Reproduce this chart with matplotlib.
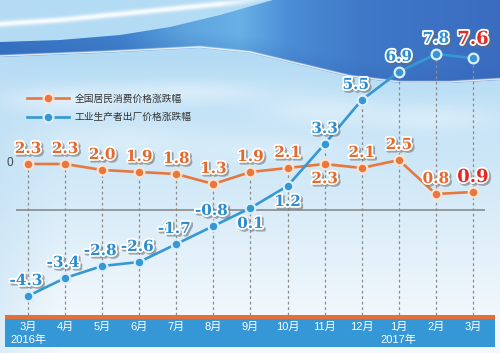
import matplotlib

matplotlib.use("Agg")

import numpy as np
import matplotlib.pyplot as plt
import matplotlib.patheffects as pe
from matplotlib.colors import to_rgb

plt.rcParams["font.family"] = ["Liberation Sans", "Noto Sans CJK SC", "DejaVu Sans"]

# data
months = ["3月", "4月", "5月", "6月", "7月", "8月", "9月",
          "10月", "11月", "12月", "1月", "2月", "3月"]
years = {0: "2016年", 10: "2017年"}
cpi = [2.3, 2.3, 2.0, 1.9, 1.8, 1.3, 1.9, 2.1, 2.3, 2.1, 2.5, 0.8, 0.9]
ppi = [-4.3, -3.4, -2.8, -2.6, -1.7, -0.8, 0.1, 1.2, 3.3, 5.5, 6.9, 7.8, 7.6]
cpi_name = "全国居民消费价格涨跌幅"
ppi_name = "工业生产者出厂价格涨跌幅"

ORANGE = "#e8773e"
BLUE = "#3598d4"
W, H = 500, 353


def rgb(c):
    return np.array(to_rgb(c))


def mix(a, b, f):
    return a * (1 - f) + b * f


def background():
    yy, xx = np.mgrid[0:H, 0:W]
    X = xx + 0.5
    Y = yy + 0.5
    t = np.clip((Y - 50) / 270.0, 0, 1)[..., None]
    img = mix(rgb("#b3dbf4"), rgb("#f3f8fc"), t)
    img = mix(img, rgb("#b9dcf3"), np.clip(1 - X / 60.0, 0, 1)[..., None] * 0.4)

    # soft clouds under the wave
    for cx, cy, sx, sy, k in [(70, 100, 70, 14, 0.45), (190, 92, 80, 12, 0.4),
                              (320, 110, 60, 16, 0.35), (120, 140, 90, 18, 0.3),
                              (430, 118, 70, 14, 0.35), (270, 150, 80, 15, 0.25)]:
        g = np.exp(-(((X - cx) / sx) ** 2 + ((Y - cy) / sy) ** 2)) * k
        img = mix(img, np.ones(3), g[..., None])

    # white swoosh at top left
    sw = np.interp(X, [0, 60, 120, 180, 240, 280], [24, 20, 14, 8, 2, -4])
    g = np.exp(-((Y - sw) / 3.0) ** 2) * 0.9 * np.clip((280 - X) / 60, 0, 1)
    img = mix(img, np.ones(3), g[..., None])

    # blue wave band
    lo = np.interp(X, [0, 100, 200, 250, 300, 350, 400, 450, 500],
                   [57, 53, 48, 53, 65, 77, 83, 83, 80])
    up = np.interp(X, [0, 60, 120, 170, 220, 255, 280, 500],
                   [42, 40, 35, 27, 15, 5, -2, -2])
    inside = (np.clip(Y - up + 0.5, 0, 1) * np.clip(lo - Y + 0.5, 0, 1))[..., None]
    d = lo - Y
    stops_x = [0, 120, 190, 240, 290, 360, 500]
    stops_c = np.array([rgb(c) for c in
                        ["#3672c2", "#3f80cc", "#5fa6e0", "#68b0e6", "#4b8dd6", "#3f79c8", "#3a6cc0"]])
    band = np.stack([np.interp(X, stops_x, stops_c[:, j]) for j in range(3)], axis=-1)
    shade = np.clip(1 - d / 18.0, 0, 1) * 0.2
    band = mix(band, rgb("#2a58aa"), shade[..., None])
    edge = np.exp(-((d - 1.0) / 1.1) ** 2) * 0.85
    band = mix(band, np.ones(3), edge[..., None])
    return np.clip(mix(img, band, inside), 0, 1)


fig = plt.figure(figsize=(5.0, 3.53), dpi=100)

bg = fig.add_axes([0, 0, 1, 1])
bg.imshow(background(), extent=(0, W, H, 0), aspect="auto", zorder=0)
bg.set_xlim(0, W)
bg.set_ylim(H, 0)
bg.axis("off")

# bottom bar
bg.fill_between([5, 495], 318, 347, color="#3597d5", lw=0, zorder=2)
bg.fill_between([5, 495], 315, 318.5, color="#e2703a", lw=0, zorder=2)

# ---------- data axes ----------
step = 37.08
x0 = 28
ax = fig.add_axes([0, 0, 1, 1], zorder=2)
ax.patch.set_alpha(0)
ax.axis("off")
ax.set_xlim(-x0 / step, (W - x0) / step)
ax.set_ylim(-(H - 210) / 20.0, 210 / 20.0)

idx = np.arange(len(months))
bar_top = -(315 - 210) / 20.0
ax.vlines(idx, bar_top, np.maximum(cpi, ppi), colors="#8c8c8c", lw=0.9,
          linestyles=(0, (2.2, 2.2)), zorder=1)
ax.hlines(0, -12 / step, 457 / step, colors="#8a8a8a", lw=1.2, zorder=1)

l_cpi, = ax.plot(idx, cpi, color=ORANGE, lw=1.9, marker="o", ms=7,
                 mfc=ORANGE, mec="#fde2cf", mew=1.6, zorder=3, label=cpi_name)
l_ppi, = ax.plot(idx, ppi, color=BLUE, lw=1.9, marker="o", ms=7,
                 mfc=BLUE, mec="#dcefff", mew=1.6, zorder=4, label=ppi_name)

effects = [pe.Stroke(offset=(1.3, -1.3), linewidth=2.6, foreground="#6a6a6a", alpha=0.55),
           pe.Stroke(linewidth=2.6, foreground="white"), pe.Normal()]

cpi_below = {8}
ppi_below = {6, 7}
for i, v in enumerate(cpi):
    last = i == len(cpi) - 1
    dy = -15 if i in cpi_below else 15
    ax.annotate(f"{v:.1f}", (i, v), xytext=(0, dy), textcoords="offset pixels",
                ha="center", va="center", family="DejaVu Serif", weight="bold",
                fontsize=13 if last else 11, color="#e02b28" if last else "#e2692f",
                path_effects=effects, zorder=6)
for i, v in enumerate(ppi):
    last = i == len(ppi) - 1
    dy = -16 if i in ppi_below else (19 if last else 15)
    dx = -6 if i == 9 else (-2 if v < 0 else 0)
    ax.annotate(f"{v:.1f}", (i, v), xytext=(dx, dy), textcoords="offset pixels",
                ha="center", va="center", family="DejaVu Serif", weight="bold",
                fontsize=13 if last else 11, color="#e02b28" if last else "#2d8cd0",
                path_effects=effects, zorder=6)

bar_y = -(327 - 210) / 20.0
year_y = -(340 - 210) / 20.0
for i, m_ in enumerate(months):
    ax.text(i, bar_y, m_, ha="center", va="center", color="white", fontsize=8)
for i, yl in years.items():
    ax.text(i, year_y, yl, ha="center", va="center", color="white", fontsize=8)

ax.text(-18 / step, 2.35, "0", ha="center", va="center", color="#444444", fontsize=8.5)

ax.legend(handles=[l_cpi, l_ppi], loc="upper left", bbox_to_anchor=(22 / W, 1 - 89 / H),
          frameon=False, fontsize=7, handlelength=4.3, labelspacing=0.85,
          handletextpad=0.6, borderpad=0, labelcolor="#333333")

fig.savefig("out.png", dpi=100)
